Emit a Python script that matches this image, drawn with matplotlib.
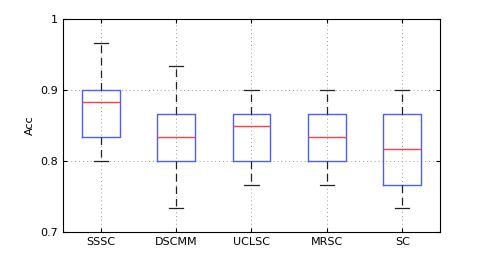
import numpy as np
import matplotlib
matplotlib.use("Agg")
import matplotlib.pyplot as plt

# box statistics
methods = ["SSSC", "DSCMM", "UCLSC", "MRSC", "SC"]
whisker_low = [0.8, 0.7333, 0.7667, 0.7667, 0.7333]
q1 = [0.8333, 0.8, 0.8, 0.8, 0.7667]
median = [0.8833, 0.8333, 0.85, 0.8333, 0.8167]
q3 = [0.9, 0.8667, 0.8667, 0.8667, 0.8667]
whisker_high = [0.9667, 0.9333, 0.9, 0.9, 0.9]

stats = []
for i in range(len(methods)):
    stats.append({"label": methods[i], "whislo": whisker_low[i], "q1": q1[i],
                  "med": median[i], "q3": q3[i], "whishi": whisker_high[i],
                  "fliers": []})

fig = plt.figure(figsize=(4.85, 2.61), dpi=100)
ax = fig.add_axes([0.13, 0.111, 0.777, 0.816])

ax.bxp(stats, widths=0.5, capwidths=0.19, showfliers=False,
       boxprops=dict(color="#4d5cff", linewidth=1.0),
       medianprops=dict(color="#ff4040", linewidth=1.0),
       whiskerprops=dict(color="#222222", linewidth=0.9, linestyle=(0, (6, 4))),
       capprops=dict(color="#222222", linewidth=0.9))

ax.set_xlim(0.5, 5.5)
ax.set_ylim(0.7, 1.0)
ax.set_yticks([0.7, 0.8, 0.9, 1.0])
ax.set_yticklabels(["0.7", "0.8", "0.9", "1"])
ax.grid(True, color="#999999", linestyle=(0, (1, 3)), linewidth=0.7)
ax.set_axisbelow(True)
ax.tick_params(direction="in", top=True, right=True, labelsize=8, length=3)
ax.set_ylabel("Acc", fontsize=8)
for s in ax.spines.values():
    s.set_linewidth(0.8)

fig.savefig("out.png", dpi=100)
